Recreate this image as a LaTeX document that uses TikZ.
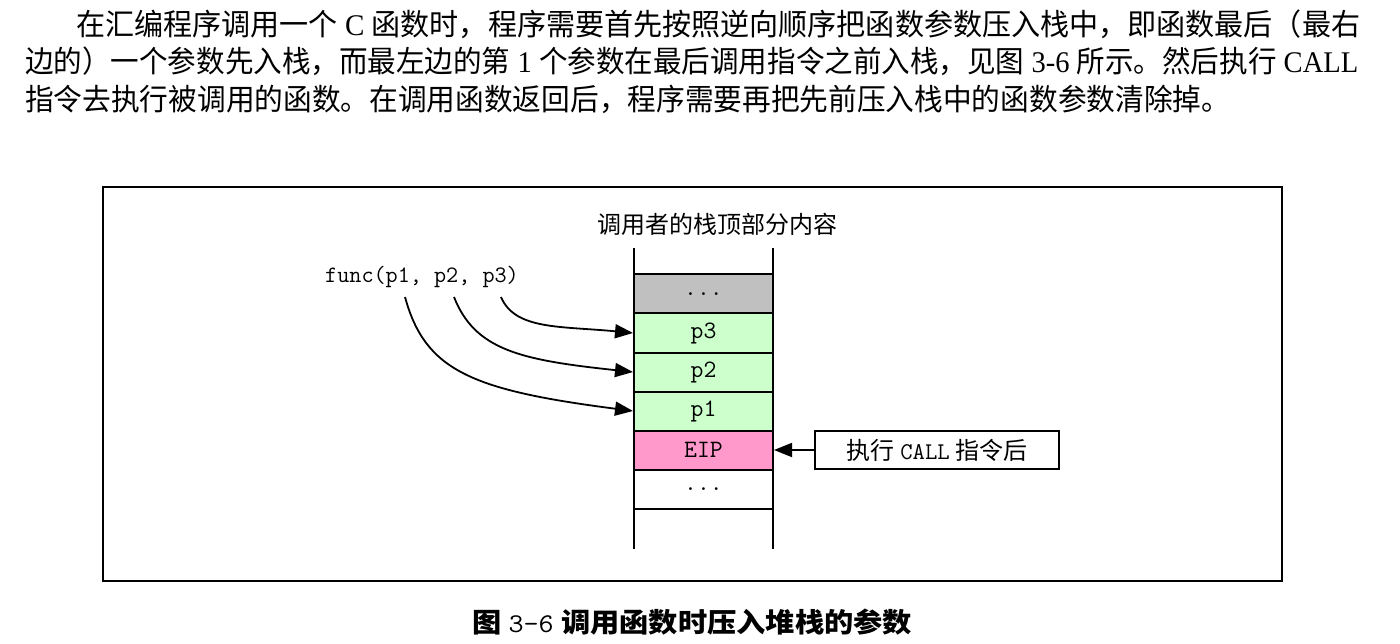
\documentclass[tikz,border=0pt]{standalone}
\usepackage{fontspec}
\usepackage{graphicx}
\setmainfont{Liberation Serif}
\newfontfamily\cjk{Noto Sans CJK SC}
\usetikzlibrary{arrows.meta}
\definecolor{cellgray}{HTML}{C0C0C0}
\definecolor{cellgreen}{HTML}{CCFFCC}
\definecolor{cellpink}{HTML}{FF99CC}
\begin{document}
\begin{tikzpicture}[x=1pt,y=-1pt,
  para/.style={anchor=base west, inner sep=0pt, font=\fontsize{30}{36}\selectfont},
  dtext/.style={font=\fontsize{24}{28}\selectfont, inner sep=0pt},
  cell/.style={draw, line width=2pt, minimum width=139pt, minimum height=39pt, inner sep=0pt, font=\fontsize{25}{28}\selectfont\ttfamily},
  arr/.style={line width=1.8pt, -{Triangle[length=18pt,width=14pt]}},
  framebox/.style={draw, line width=2.2pt}
]
\useasboundingbox (0,0) rectangle (1400,644);
% paragraph
\node[para] (l1) at (76,36) {\resizebox{1284pt}{\height}{{\cjk 在汇编程序调用一个} C {\cjk 函数时，程序需要首先按照逆向顺序把函数参数压入栈中，即函数最后（最右}}};
\node[para] (l2) at (25,73) {\resizebox{1333pt}{\height}{{\cjk 边的）一个参数先入栈，而最左边的第} 1 {\cjk 个参数在最后调用指令之前入栈，见图} 3-6 {\cjk 所示。然后执行} CALL}};
\node[para] (l3) at (25,111) {\resizebox{1205pt}{\height}{\cjk 指令去执行被调用的函数。在调用函数返回后，程序需要再把先前压入栈中的函数参数清除掉。}};
% frame
\node[framebox, minimum width=1179pt, minimum height=394pt, inner sep=0pt] (frame) at (692.5,384) {};
% title
\node[dtext] (title) at (717,224) {\cjk 调用者的栈顶部分内容};
% stack walls
\coordinate (lt) at (634,248);
\coordinate (lb) at (634,549);
\coordinate (rt) at (773,248);
\coordinate (rb) at (773,549);
\draw[line width=2pt] (lt) -- (lb);
\draw[line width=2pt] (rt) -- (rb);
% cells
\node[cell, fill=cellgray] (c0) at (703.5,294) {...};
\node[cell, fill=cellgreen] (c1) at (703.5,333) {p3};
\node[cell, fill=cellgreen] (c2) at (703.5,372) {p2};
\node[cell, fill=cellgreen] (c3) at (703.5,411) {p1};
\node[cell, fill=cellpink] (c4) at (703.5,450) {EIP};
\node[cell, fill=white] (c5) at (703.5,489) {...};
% function call
\node[dtext, anchor=west, font=\fontsize{23.5}{26}\selectfont\ttfamily] (func) at (325,277) {func(p1, p2, p3)};
\coordinate (s1) at (405,297);
\coordinate (s2) at (454,297);
\coordinate (s3) at (501,297);
\draw[arr] (s3) .. controls (515,330) and (560,326) .. (c1.west);
\draw[arr] (s2) .. controls (475,350) and (520,360) .. (c2.west);
\draw[arr] (s1) .. controls (425,370) and (470,390) .. (c3.west);
% call box
\node[draw, line width=1.8pt, minimum width=244pt, minimum height=38pt, inner sep=0pt, dtext] (call) at (937,450) {{\cjk 执行} {\ttfamily CALL} {\cjk 指令后}};
\draw[arr] (call.west) -- (c4.east);
% caption
\node[inner sep=0pt] (cap) at (692,622) {\fontsize{27}{30}\selectfont\resizebox{440pt}{\height}{{\cjk\bfseries 图} {\ttfamily 3-6} {\cjk\bfseries 调用函数时压入堆栈的参数}}};
\end{tikzpicture}
\end{document}
